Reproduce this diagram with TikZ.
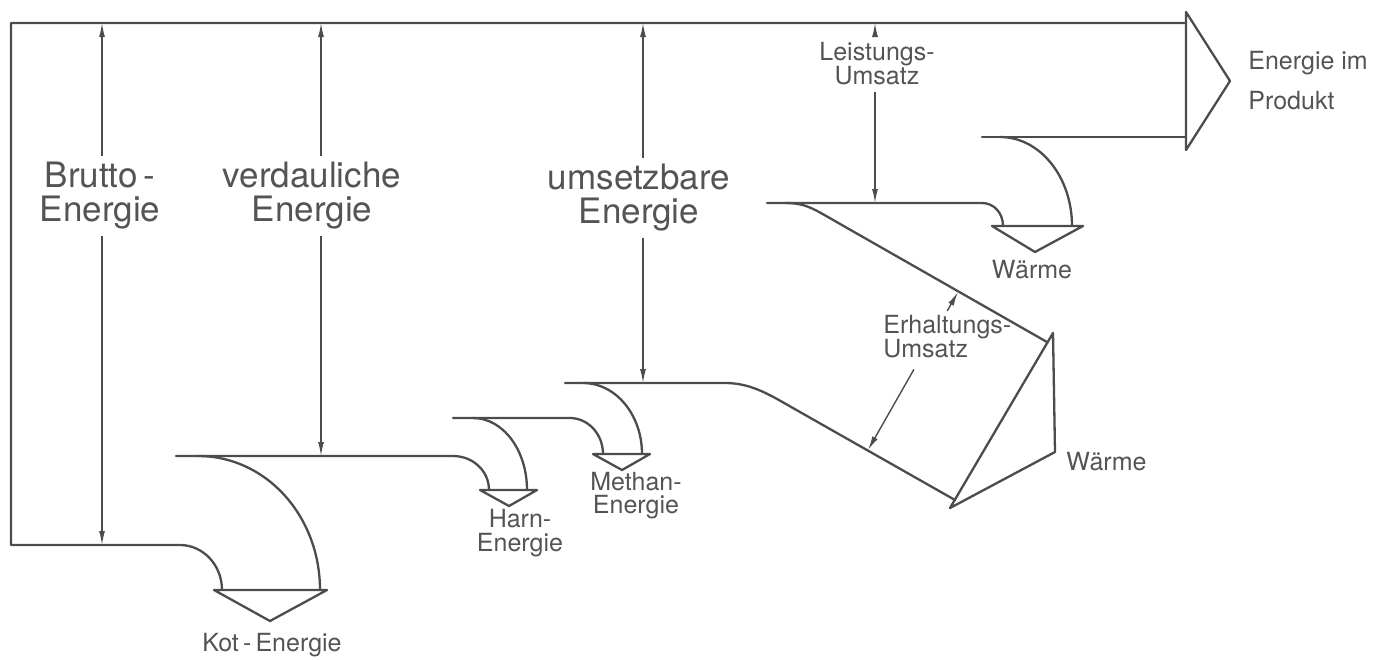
\documentclass[tikz,border=0pt]{standalone}
\usepackage{fontspec}
\setmainfont{TeX Gyre Heros}
\usetikzlibrary{arrows.meta,calc}
\definecolor{ink}{gray}{0.30}
\definecolor{txt}{gray}{0.33}
\begin{document}
\begin{tikzpicture}[x=0.5pt,y=-0.5pt,
  flow/.style={draw=ink,line width=1.15pt,line join=round,line cap=round},
  dim/.style={draw=ink,line width=0.7pt,-{Latex[length=7pt,width=3pt]}},
  big/.style={text=txt,font=\fontsize{17.5}{17}\selectfont,align=center,inner sep=3pt},
  small/.style={text=txt,font=\fontsize{12.5}{12}\selectfont,align=center,inner sep=3pt},
]
\useasboundingbox (0,0) rectangle (1376,659);

% ---------- flows (outlines) ----------
% gross energy frame and faeces branch
\draw[flow] (1186,23) -- (11,23) -- (11,545) -- (180,545)
  .. controls (203,545) and (222,565) .. (222,590);
\draw[flow] (214,590) -- (327,590) -- (270,621) -- cycle;
% digestible energy line and urine branch
\draw[flow] (176,456) -- (453,456) .. controls (473,456) and (489,471) .. (489,490);
\draw[flow] (198,456) .. controls (266,456) and (320,516) .. (320,590);
\draw[flow] (480,490) -- (537,490) -- (509,506) -- cycle;
% urine outer / methane inner
\draw[flow] (453,418) -- (570,418) .. controls (588,418) and (603,434) .. (603,454);
\draw[flow] (473,418) .. controls (503,418) and (527,450) .. (527,490);
\draw[flow] (593,454) -- (650,454) -- (622,470) -- cycle;
% metabolisable energy and methane outer
\draw[flow] (565,383) -- (725,383) .. controls (748,383) and (765,392) .. (785,403.5) -- (955,500);
\draw[flow] (583,383) .. controls (616,383) and (642,415) .. (642,454);
% maintenance heat triangle
\draw[flow] (1053,333) -- (1055,452) -- (950,508) -- cycle;
% production line and upper heat
\draw[flow] (767,203) -- (982,203) .. controls (994,203) and (1003,213) .. (1003,226);
\draw[flow] (785,203) .. controls (800,203) and (808,206) .. (820,212.5) -- (1047.5,342.3);
\draw[flow] (982,137) -- (1186,137);
\draw[flow] (1000,137) .. controls (1040,137) and (1072,177) .. (1072,226);
\draw[flow] (992,226) -- (1083,226) -- (1035,252) -- cycle;
% product arrow
\draw[flow] (1186,12) -- (1230,81) -- (1186,150) -- cycle;

% ---------- labels ----------
\node[big] (bru) at (100,196) {Brutto\,-\\Energie};
\node[big] (ver) at (312,196) {verdauliche\\Energie};
\node[big] (ums) at (639,198) {umsetzbare\\Energie};
\node[small] (lei) at (877,64) {Leistungs-\\Umsatz};
\node[small,align=left,anchor=west] (erh) at (877,337) {Erhaltungs-\\Umsatz};
\node[small] (kot) at (272,645) {Kot\,-\,Energie};
\node[small] (harn) at (520,533) {Harn-\\Energie};
\node[small,font=\fontsize{12.5}{11.5}\selectfont] (meth) at (636,496) {Methan-\\Energie};
\node[small] (w1) at (1032,270) {Wärme};
\node[small,anchor=west] (w2) at (1060,462) {Wärme};
\node[small,align=left,anchor=west,font=\fontsize{12.5}{20}\selectfont] (prod) at (1242,81) {Energie im\\Produkt};

% ---------- dimension arrows ----------
\coordinate (bt) at (102,23);  \coordinate (bb) at (102,545);
\coordinate (vt) at (321,23);  \coordinate (vb) at (321,456);
\coordinate (ut) at (643,23);  \coordinate (ub) at (643,383);
\coordinate (lt) at (875,23);  \coordinate (lb) at (875,203);
\coordinate (ea) at (958,292); \coordinate (eb) at (868,450);
\coordinate (ea0) at ($(ea)!0.12!(eb)$);
\coordinate (eb0) at ($(ea)!0.49!(eb)$);

\draw[dim] (bt |- bru.north) -- (bt);
\draw[dim] (bb |- bru.south) -- (bb);
\draw[dim] (vt |- ver.north) -- (vt);
\draw[dim] (vb |- ver.south) -- (vb);
\draw[dim] (ut |- ums.north) -- (ut);
\draw[dim] (ub |- ums.south) -- (ub);
\draw[dim] (lt |- lei.north) -- (lt);
\draw[dim] (lb |- lei.south) -- (lb);
\draw[dim] (ea0) -- (ea);
\draw[dim] (eb0) -- (eb);
\end{tikzpicture}
\end{document}
